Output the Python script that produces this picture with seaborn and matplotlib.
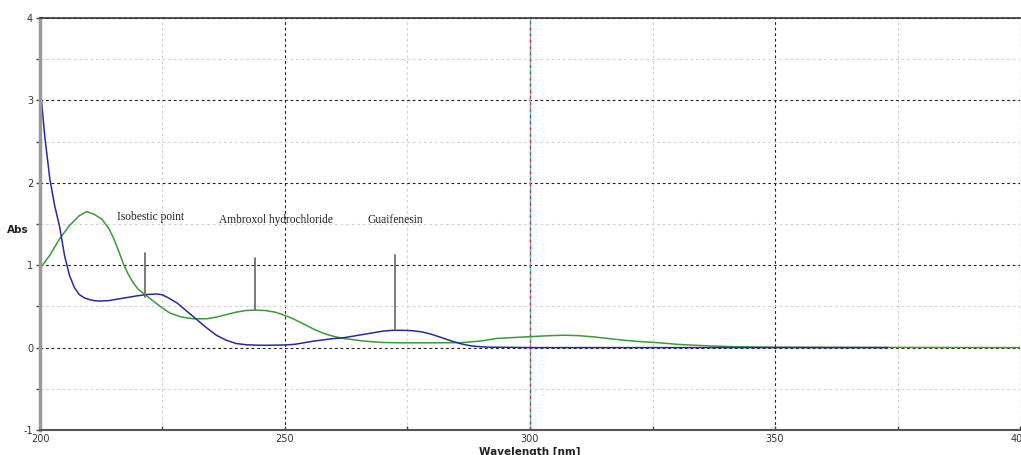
import numpy as np
import pandas as pd
import matplotlib
matplotlib.use("Agg")
import matplotlib.pyplot as plt
import seaborn as sns
from matplotlib.ticker import MultipleLocator

# blue spectrum (wavelength nm, absorbance)
blue_wl = [200, 201, 202, 203, 204, 205, 206, 207, 208, 209, 210, 211, 212, 214, 216, 218,
           220, 222, 224, 225, 226, 228, 230, 232, 234, 236, 238, 240, 242, 244, 246, 248,
           250, 252, 254, 256, 258, 260, 262, 264, 266, 268, 270, 272, 274, 276, 278, 280,
           282, 284, 286, 288, 290, 292, 296, 300, 320, 340, 360, 373]
blue_abs = [3.19, 2.55, 2.05, 1.72, 1.47, 1.12, 0.88, 0.73, 0.645, 0.605, 0.585, 0.57, 0.565,
            0.57, 0.59, 0.61, 0.63, 0.645, 0.65, 0.64, 0.61, 0.54, 0.44, 0.34, 0.24, 0.15,
            0.09, 0.05, 0.035, 0.03, 0.028, 0.03, 0.032, 0.04, 0.06, 0.08, 0.095, 0.11, 0.12,
            0.14, 0.16, 0.18, 0.20, 0.21, 0.21, 0.205, 0.19, 0.16, 0.12, 0.08, 0.045, 0.02,
            0.01, 0.005, 0.003, 0.0, 0.0, 0.0, 0.0, 0.0]

# green spectrum
green_wl = [200, 202, 204, 206, 208, 209.5, 211, 212.6, 214, 215, 216, 217, 218, 219, 220,
            221.4, 223, 225, 226.5, 228.6, 230, 231.3, 234, 236, 238, 240, 242, 244, 246,
            248, 250, 252, 254, 256, 258, 260, 262, 264, 266, 268, 270, 274, 280, 286, 290,
            293, 296, 300, 304, 307, 310, 313, 316, 319, 322, 326, 330, 333, 337, 342, 350,
            360, 400]
green_abs = [0.96, 1.12, 1.32, 1.48, 1.60, 1.65, 1.62, 1.56, 1.45, 1.33, 1.18, 1.02, 0.89,
             0.79, 0.71, 0.645, 0.57, 0.48, 0.42, 0.375, 0.36, 0.35, 0.35, 0.37, 0.40, 0.43,
             0.45, 0.455, 0.45, 0.43, 0.39, 0.34, 0.28, 0.22, 0.17, 0.135, 0.11, 0.095, 0.08,
             0.07, 0.062, 0.058, 0.058, 0.06, 0.08, 0.11, 0.12, 0.133, 0.145, 0.15, 0.145,
             0.13, 0.11, 0.09, 0.075, 0.06, 0.04, 0.03, 0.02, 0.01, 0.005, 0.003, 0.0]

# annotations: label, x of marker, line bottom, line top, text x, text y
ann_labels = ["Isobestic point", "Ambroxol hydrochloride", "Guaifenesin"]
ann_x = [221.4, 243.9, 272.4]
ann_lo = [0.62, 0.46, 0.22]
ann_hi = [1.15, 1.09, 1.12]
ann_tx = [222.5, 248.2, 272.5]
ann_ty = [1.58, 1.55, 1.55]

sns.set_style("white")
plt.rcParams['font.family'] = ['DejaVu Sans']
plt.rcParams['axes.unicode_minus'] = False

fig = plt.figure(figsize=(10.21, 4.55), dpi=100)
ax = fig.add_axes([40 / 1021, 1 - 430 / 455, 980 / 1021, 412 / 455])

sns.lineplot(x=green_wl, y=green_abs, color="#3a9a3a", lw=1.1, ax=ax, sort=False)
sns.lineplot(x=blue_wl, y=blue_abs, color="#2a2a9c", lw=1.1, ax=ax, sort=False)

ax.set_xlim(200, 400)
ax.set_ylim(-1, 4)
ax.xaxis.set_major_locator(MultipleLocator(50))
ax.xaxis.set_minor_locator(MultipleLocator(25))
ax.yaxis.set_major_locator(MultipleLocator(1))
ax.yaxis.set_minor_locator(MultipleLocator(0.5))

ax.grid(which="minor", color="#d2d2d2", ls=(0, (2.5, 2.5)), lw=0.8)
ax.grid(which="major", color="#222222", ls=(0, (2.5, 2.5)), lw=0.8)
ax.set_axisbelow(True)

# cursor line at 300 nm
ax.axvline(300, color="#30d0e0", lw=0.9, zorder=1.5)
ax.axvline(300, color="#e03030", lw=0.9, ls=(0, (2.5, 2.5)), zorder=1.6)

for lab, x, lo, hi, tx, ty in zip(ann_labels, ann_x, ann_lo, ann_hi, ann_tx, ann_ty):
    ax.plot([x, x], [lo, hi], color="#707070", lw=1.3, zorder=3)
    ax.text(tx, ty, lab, ha="center", va="center", fontsize=8.3,
            family=["Liberation Serif"], color="#222222", zorder=4)

ax.spines["left"].set_color("#999999")
ax.spines["left"].set_linewidth(2.5)
ax.spines["bottom"].set_color("#555555")
ax.spines["bottom"].set_linewidth(1.5)
ax.spines["top"].set_color("#333333")
ax.spines["top"].set_linewidth(1.2)
ax.spines["right"].set_visible(False)

ax.tick_params(axis="y", which="both", direction="out", length=3, width=1,
               color="#444444", labelsize=7, labelcolor="#333333", pad=2, left=True)
ax.tick_params(axis="x", which="both", direction="in", length=3, width=1,
               color="#444444", labelsize=7, labelcolor="#333333", pad=3, bottom=True)

ax.set_ylabel("Abs", rotation=0, fontsize=7.5, fontweight="bold", color="#222222",
              ha="center", va="center")
ax.yaxis.set_label_coords(-0.0224, 0.485)
ax.set_xlabel("Wavelength [nm]", fontsize=7.5, fontweight="bold", color="#222222", va="top")
ax.xaxis.set_label_coords(0.5, -0.04)

fig.savefig("out.png", dpi=100)
